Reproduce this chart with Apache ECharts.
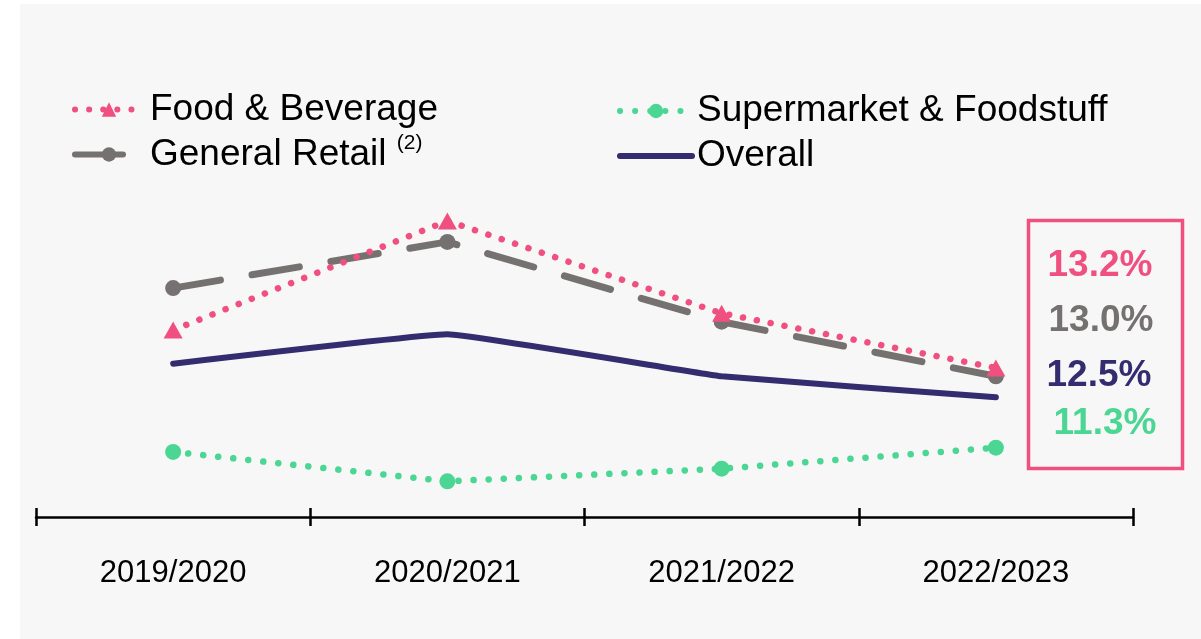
<!DOCTYPE html>
<html>
<head>
<meta charset="utf-8">
<script src="https://cdn.jsdelivr.net/npm/echarts@6/dist/echarts.min.js"></script>
<style>
body{margin:0;background:#fff;}
.panel{position:absolute;left:20px;top:4px;right:0;bottom:0;background:#f7f7f7;}
#main{position:absolute;left:0;top:0;width:1201px;height:639px;}
</style>
</head>
<body>
<div class="panel"></div>
<div id="main"></div>
<script>
var years = ['2019/2020', '2020/2021', '2021/2022', '2022/2023'];
var foodBev = [14.1, 16.7, 14.5, 13.2];
var generalRetail = [15.1, 16.2, 14.3, 13.0];
var overall = [13.3, 14.0, 13.0, 12.5];
var supermarket = [11.2, 10.5, 10.8, 11.3];
// latest-year figures shown in the box on the right
var boxLabels = ['13.2%', '13.0%', '12.5%', '11.3%'];

var PINK = '#f05080', GREY = '#767171', NAVY = '#332c6f', GREEN = '#4bd693';
var FONT = 'Liberation Sans';
var BOXFONT = 'bold 37px "Liberation Sans"';

var myChart = echarts.init(document.getElementById('main'));

var option = {
  backgroundColor: 'transparent',
  animation: false,
  textStyle: {fontFamily: FONT},
  grid: {left: 36, right: 68, top: 97, bottom: 122},
  legend: [
    {
      left: 72, top: 91, orient: 'vertical', padding: 0, itemGap: 5,
      itemWidth: 68, itemHeight: 18,
      lineStyle: {width: 6},
      data: ['Food & Beverage', 'General Retail'],
      formatter: function (name) {
        if (name === 'General Retail') return '{t|General Retail} {s|(2)}';
        return '{t|' + name + '}';
      },
      textStyle: {
        color: '#000', fontSize: 37, fontFamily: FONT, padding: [0, 0, 0, 2],
        rich: {
          t: {fontSize: 37, fontFamily: FONT, color: '#000', lineHeight: 40},
          s: {fontSize: 21, fontFamily: FONT, color: '#000', verticalAlign: 'top', padding: [0, 0, 22, 0]}
        }
      }
    },
    {
      left: 617, top: 91, orient: 'vertical', padding: 0, itemGap: 5,
      itemWidth: 72, itemHeight: 18,
      lineStyle: {width: 6},
      data: ['Supermarket & Foodstuff', {name: 'Overall', itemStyle: {opacity: 0}}],
      textStyle: {color: '#000', fontSize: 37, fontFamily: FONT, lineHeight: 40, padding: 0}
    }
  ],
  xAxis: [
    {
      type: 'category', data: years, position: 'bottom',
      axisLine: {lineStyle: {color: '#000', width: 2.5}},
      axisTick: {show: true, length: 9, lineStyle: {color: '#000', width: 2.5}},
      axisLabel: {color: '#000', fontSize: 31, fontFamily: FONT, margin: 41}
    },
    {// second axis only to draw the inner half of the ticks
      type: 'category', data: years, position: 'bottom', offset: 0,
      axisLine: {show: false},
      axisTick: {show: true, inside: true, length: 9, lineStyle: {color: '#000', width: 2.5}},
      axisLabel: {show: false}
    }
  ],
  yAxis: {
    type: 'value', min: 9.65, max: 19.65, show: false,
    splitLine: {show: false}
  },
  series: [
    {
      name: 'Food & Beverage', type: 'line', data: foodBev, z: 4,
      symbol: 'triangle', symbolSize: [19, 17],
      itemStyle: {color: PINK},
      lineStyle: {color: PINK, width: 6.5, type: [0.1, 14], cap: 'round'}
    },
    {
      name: 'General Retail', type: 'line', data: generalRetail, z: 3,
      symbol: 'circle', symbolSize: 16,
      itemStyle: {color: GREY},
      lineStyle: {color: GREY, width: 7, type: [48, 32], cap: 'round'}
    },
    {
      name: 'Supermarket & Foodstuff', type: 'line', data: supermarket,
      symbol: 'circle', symbolSize: 16,
      itemStyle: {color: GREEN},
      lineStyle: {color: GREEN, width: 6.5, type: [0.1, 15], cap: 'round'}
    },
    {
      name: 'Overall', type: 'line', data: overall,
      symbol: 'none', smooth: 0.08,
      itemStyle: {color: NAVY},
      lineStyle: {color: NAVY, width: 6, cap: 'round'}
    }
  ],
  graphic: [
    {
      type: 'rect', left: 1026, top: 218,
      shape: {width: 154, height: 248},
      style: {fill: 'none', stroke: PINK, lineWidth: 3.5}
    },
    {type: 'text', x: 1100, y: 266, style: {text: boxLabels[0], fill: PINK, font: BOXFONT, align: 'center', verticalAlign: 'middle'}},
    {type: 'text', x: 1101, y: 321, style: {text: boxLabels[1], fill: GREY, font: BOXFONT, align: 'center', verticalAlign: 'middle'}},
    {type: 'text', x: 1099, y: 376, style: {text: boxLabels[2], fill: NAVY, font: BOXFONT, align: 'center', verticalAlign: 'middle'}},
    {type: 'text', x: 1105, y: 424, style: {text: boxLabels[3], fill: GREEN, font: BOXFONT, align: 'center', verticalAlign: 'middle'}}
  ]
};
myChart.setOption(option);
</script>
</body>
</html>
